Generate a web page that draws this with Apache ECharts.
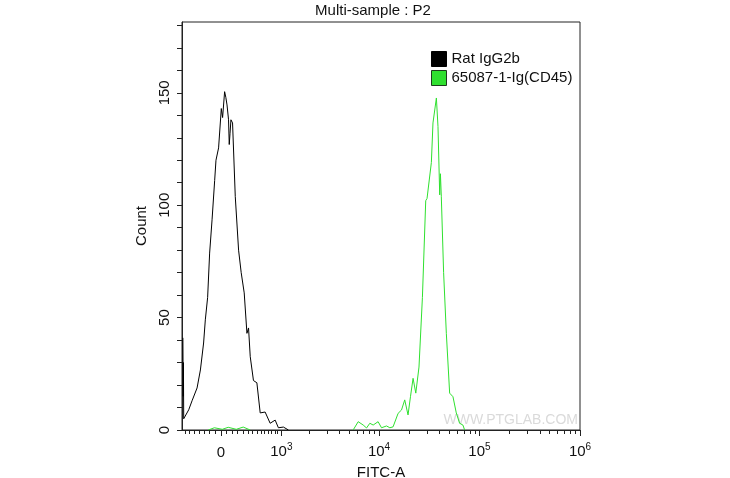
<!DOCTYPE html>
<html>
<head>
<meta charset="utf-8">
<script src="https://cdn.jsdelivr.net/npm/echarts@6/dist/echarts.min.js"></script>
<style>html,body{margin:0;padding:0;background:#fff}#c{width:730px;height:478px}</style>
</head>
<body>
<div id="c"></div>
<script>
// Histogram bins: position on the biexponential FITC-A display scale (decade units, 0 = value 0)
const isoPos   = [-0.379,-0.376,-0.374,-0.371,-0.321,-0.288,-0.238,-0.205,-0.173,-0.156,-0.133,-0.113,-0.089,-0.063,-0.050,-0.024,-0.007,0.003,0.016,0.036,0.048,0.060,0.075,0.082,0.090,0.099,0.115,0.142,0.175,0.201,0.231,0.258,0.274,0.291,0.323,0.357,0.390,0.439,0.489,0.539,0.571,0.621,0.671];
const isoCount = [41,15,30,5,9,13,18.7,26.7,38.7,49,59,78.7,93.5,111,120,125.5,125.5,143,139,150.5,148,144.6,138,127,132,138,136.6,103.8,80,70,61,43,45.4,32.6,22,21,7.6,8,3,4.4,1,1.3,0];
const cd45Pos   = [-0.126,-0.066,0.013,0.072,0.152,0.221,0.291,null,1.315,1.365,1.415,1.448,1.481,1.514,1.531,1.563,1.597,1.647,1.680,1.712,1.729,1.762,1.796,1.828,1.861,1.885,1.911,1.938,1.970,2.004,2.037,2.050,2.093,2.109,2.143,2.159,2.176,2.183,2.192,2.215,2.242,2.275,2.308,2.341,2.374,2.407,2.424];
const cd45Count = [0,1,0.3,1.2,0.3,1.3,0,null,0,3.7,2.2,0.9,3,2.2,3,3.7,1,1.8,1,1.4,1,7.4,8.9,13.4,6.7,14.8,23,16.4,28,59,102,103,119,136.6,147.7,135,104.6,114,104,70,43,16.4,14.8,7.6,3,2.2,0];
const seriesNames = ['Rat IgG2b', '65087-1-Ig(CD45)'];
const seriesColors = ['#000000', '#2fe02f'];
// Axis labels
const xMajorValues = [0, 1e3, 1e4, 1e5, 1e6];
const xMajorLabels = ['0', '10^3', '10^4', '10^5', '10^6'];
const yTickValues = [0,10,20,30,40,50,60,70,80,90,100,110,120,130,140,150,160,170,180];
const yLabelValues = [0, 50, 100, 150];

// biexponential (asinh) display transform, in decades
const T = v => Math.asinh(v / 536) / Math.LN10;
const xMin = -0.388, xMax = T(1e6);
const minorVals = [];
for (let k = -8; k <= 13; k++) if (k !== 0) minorVals.push(k * 70);
[1e3, 1e4, 1e5].forEach(d => { for (let m = 2; m <= 9; m++) minorVals.push(m * d); });
const minorTicks = minorVals.map(T).filter(t => t > xMin && t < xMax);
const majorTicks = xMajorValues.map(T);

const pair = (xs, ys) => xs.map((x, i) => x === null ? [null, null] : [x, ys[i]]);
const FONT = 'Liberation Sans, Arial, sans-serif';

const chart = echarts.init(document.getElementById('c'), null, {renderer: 'canvas'});
chart.setOption({
  animation: false,
  backgroundColor: '#fff',
  textStyle: {fontFamily: FONT, color: '#111'},
  grid: {left: 182, right: 150, top: 22, bottom: 48, show: true, borderColor: '#222', borderWidth: 1,
         containLabel: false, outerBoundsMode: 'none'},
  graphic: [
    {type: 'text', x: 373, y: 11, style: {text: 'Multi-sample : P2', font: '15px Liberation Sans, Arial, sans-serif', fill: '#111', align: 'center', verticalAlign: 'middle'}},
    {type: 'text', x: 578, y: 420, z: 0, style: {text: 'WWW.PTGLAB.COM', font: '14px Liberation Sans, Arial, sans-serif', fill: '#dadada', align: 'right', verticalAlign: 'middle'}}
  ],
  legend: {
    orient: 'vertical', left: 426, top: 46, itemWidth: 15, itemHeight: 15, itemGap: 3, icon: 'rect',
    textStyle: {fontSize: 15, color: '#111', fontFamily: FONT, lineHeight: 16},
    data: [
      {name: seriesNames[0], itemStyle: {color: seriesColors[0], borderColor: '#000', borderWidth: 1}},
      {name: seriesNames[1], itemStyle: {color: seriesColors[1], borderColor: '#1d3d1d', borderWidth: 1}}
    ]
  },
  xAxis: [
    {
      type: 'value', min: xMin, max: xMax, position: 'bottom',
      name: 'FITC-A', nameLocation: 'middle', nameGap: 31,
      nameTextStyle: {fontSize: 15, color: '#111', fontFamily: FONT},
      axisLine: {show: true, onZero: false, lineStyle: {color: '#222', width: 1}},
      axisTick: {show: true, length: 6, customValues: majorTicks, lineStyle: {color: '#222'}},
      splitLine: {show: false},
      axisLabel: {
        customValues: majorTicks, margin: 12, color: '#111', fontSize: 15, fontFamily: FONT,
        formatter: v => {
          let best = 0;
          majorTicks.forEach((t, i) => { if (Math.abs(t - v) < Math.abs(majorTicks[best] - v)) best = i; });
          const s = xMajorLabels[best];
          if (s.indexOf('^') < 0) return '{z|' + s + '}';
          const p = s.split('^');
          return '{b|' + p[0] + '}{s|' + p[1] + '}';
        },
        rich: {
          z: {fontSize: 15, fontFamily: FONT, color: '#111', padding: [3, 0, 0, 0]},
          b: {fontSize: 15, fontFamily: FONT, color: '#111'},
          s: {fontSize: 10, fontFamily: FONT, color: '#111', verticalAlign: 'bottom', padding: [0, 0, 9, 0]}
        }
      }
    },
    {
      type: 'value', min: xMin, max: xMax, position: 'bottom', gridIndex: 0,
      axisLine: {show: false, onZero: false}, axisLabel: {show: false}, splitLine: {show: false},
      axisTick: {show: true, length: 4, customValues: minorTicks, lineStyle: {color: '#222'}}
    }
  ],
  yAxis: {
    type: 'value', min: 0, max: 181.5,
    name: 'Count', nameLocation: 'middle', nameGap: 31,
    nameTextStyle: {fontSize: 15, color: '#111', fontFamily: FONT},
    axisLine: {show: true, onZero: false, lineStyle: {color: '#222', width: 1}},
    axisTick: {show: true, length: 5, customValues: yTickValues, lineStyle: {color: '#222'}},
    splitLine: {show: false},
    axisLabel: {customValues: yLabelValues, rotate: 90, margin: 10, fontSize: 15, color: '#111', fontFamily: FONT}
  },
  series: [
    {name: seriesNames[0], type: 'line', data: pair(isoPos, isoCount), showSymbol: false, symbol: 'none', connectNulls: false,
     lineStyle: {color: seriesColors[0], width: 1}, itemStyle: {color: seriesColors[0]}, z: 3},
    {name: seriesNames[1], type: 'line', data: pair(cd45Pos, cd45Count), showSymbol: false, symbol: 'none', connectNulls: false,
     lineStyle: {color: seriesColors[1], width: 1}, itemStyle: {color: seriesColors[1]}, z: 2}
  ]
});
</script>
</body>
</html>
